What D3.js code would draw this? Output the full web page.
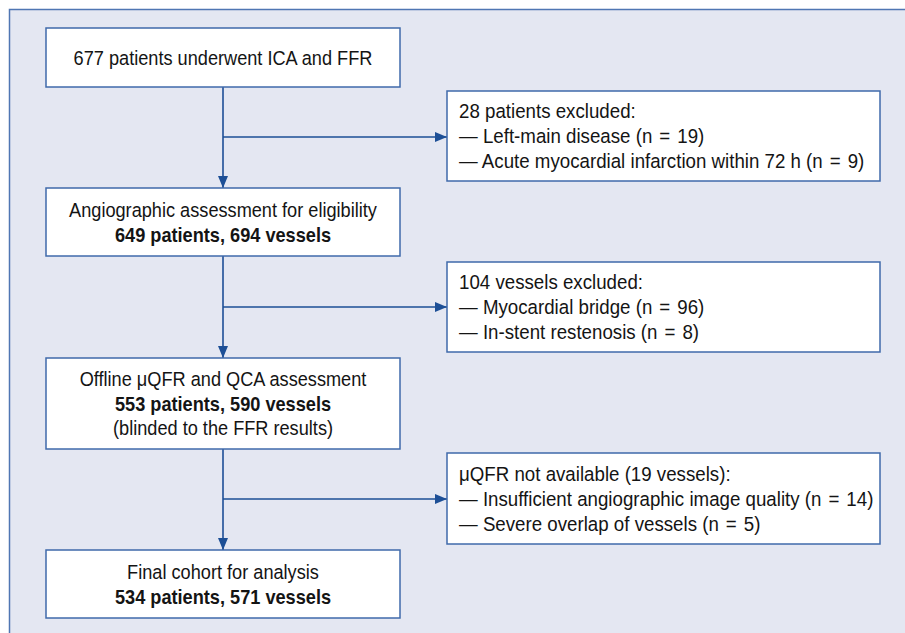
<!DOCTYPE html>
<html><head><meta charset="utf-8">
<script src="https://cdn.jsdelivr.net/npm/d3@7"></script>
<style>
html,body{margin:0;padding:0;background:#fff;}
svg{display:block;}
text{font-family:"Liberation Sans",Arial,sans-serif;fill:#141414;}
</style></head>
<body>
<svg id="chart" width="905" height="633"></svg>
<script>
// ---- data ----
const mainLines = [
  [{t:"677 patients underwent ICA and FFR", b:false}],
  [{t:"Angiographic assessment for eligibility", b:false},{t:"649 patients, 694 vessels", b:true}],
  [{t:"Offline \u03bcQFR and QCA assessment", b:false},{t:"553 patients, 590 vessels", b:true},{t:"(blinded to the FFR results)", b:false}],
  [{t:"Final cohort for analysis", b:false},{t:"534 patients, 571 vessels", b:true}]
];
const exclLines = [
  ["28 patients excluded:", "\u2014 Left-main disease (n = 19)", "\u2014 Acute myocardial infarction within 72 h (n = 9)"],
  ["104 vessels excluded:", "\u2014 Myocardial bridge (n = 96)", "\u2014 In-stent restenosis (n = 8)"],
  ["\u03bcQFR not available (19 vessels):", "\u2014 Insufficient angiographic image quality (n = 14)", "\u2014 Severe overlap of vessels (n = 5)"]
];

// ---- layout ----
const svg = d3.select("#chart");
const W = 905, H = 633;
const bg = "#e4e7f2", frameCol = "#4f76b3", boxCol = "#3f6aab", arrowCol = "#1d4f96";
const fs = 20.5;

svg.append("rect").attr("x",0).attr("y",0).attr("width",W).attr("height",H).attr("fill","#fff");
svg.append("rect").attr("x",9.5).attr("y",9.5).attr("width",W).attr("height",H).attr("fill",bg);
svg.append("path").attr("d",`M9.5,${H} V9.5 H${W}`).attr("fill","none").attr("stroke",frameCol).attr("stroke-width",1.5);

// horizontal condensing factor so the font mimics a condensed face
const probe = svg.append("text").attr("font-size",fs).text(mainLines[0][0].t);
const kMain = 299 / probe.node().getComputedTextLength();
const kExcl = kMain * 1.03;
probe.remove();

const x = d3.scaleLinear().domain([0,1]).range([46,400]);   // main column
const xe = d3.scaleLinear().domain([0,1]).range([447,880]); // exclusion column
const mainY = [[28,87],[188,256],[358,449],[550,618]];
const exclY = [[91,181],[262,352],[453,544]];
const branchY = [137,307,499];
const cx = x(0.5);

const defs = svg.append("defs");
defs.append("marker").attr("id","arr").attr("viewBox","0 0 12 10").attr("refX",12).attr("refY",5)
  .attr("markerWidth",12).attr("markerHeight",10).attr("markerUnits","userSpaceOnUse").attr("orient","auto")
  .append("path").attr("d","M0,0 L12,5 L0,10 Z").attr("fill",arrowCol);

for (let i=0;i<3;i++){
  svg.append("line").attr("x1",cx).attr("x2",cx).attr("y1",mainY[i][1]).attr("y2",mainY[i+1][0])
    .attr("stroke",arrowCol).attr("stroke-width",1.6).attr("marker-end","url(#arr)");
  svg.append("line").attr("x1",cx).attr("x2",xe(0)).attr("y1",branchY[i]).attr("y2",branchY[i])
    .attr("stroke",arrowCol).attr("stroke-width",1.6).attr("marker-end","url(#arr)");
}

function addText(tx, ty, str, anchor, bold, k){
  const t = svg.append("g").attr("transform",`translate(${tx},${ty}) scale(${k},1)`)
    .append("text").attr("dy","0.36em").attr("text-anchor",anchor)
    .attr("font-size",fs).attr("font-weight",bold?"bold":"normal");
  const parts = str.split(" = ");
  if (parts.length === 2){
    t.append("tspan").text(parts[0] + " ");
    t.append("tspan").attr("dx",2).text("=");
    t.append("tspan").attr("dx",2).text(" " + parts[1]);
  } else t.text(str);
}

const lineH = 24.5;
mainLines.forEach((lines,i)=>{
  const [y0,y1] = mainY[i];
  svg.append("rect").attr("x",x(0)).attr("y",y0).attr("width",x(1)-x(0)).attr("height",y1-y0)
    .attr("fill","#fff").attr("stroke",boxCol).attr("stroke-width",1.5);
  const mid = (y0+y1)/2;
  const start = mid - (lines.length-1)*lineH/2;
  lines.forEach((l,j)=> addText(cx, start+j*lineH, l.t, "middle", l.b, kMain));
});

exclLines.forEach((lines,i)=>{
  const [y0,y1] = exclY[i];
  svg.append("rect").attr("x",xe(0)).attr("y",y0).attr("width",xe(1)-xe(0)).attr("height",y1-y0)
    .attr("fill","#fff").attr("stroke",boxCol).attr("stroke-width",1.5);
  const mid = (y0+y1)/2;
  const start = mid - (lines.length-1)*25/2;
  lines.forEach((t,j)=> addText(xe(0)+12, start+j*25, t, "start", false, kExcl));
});
</script>
</body></html>
